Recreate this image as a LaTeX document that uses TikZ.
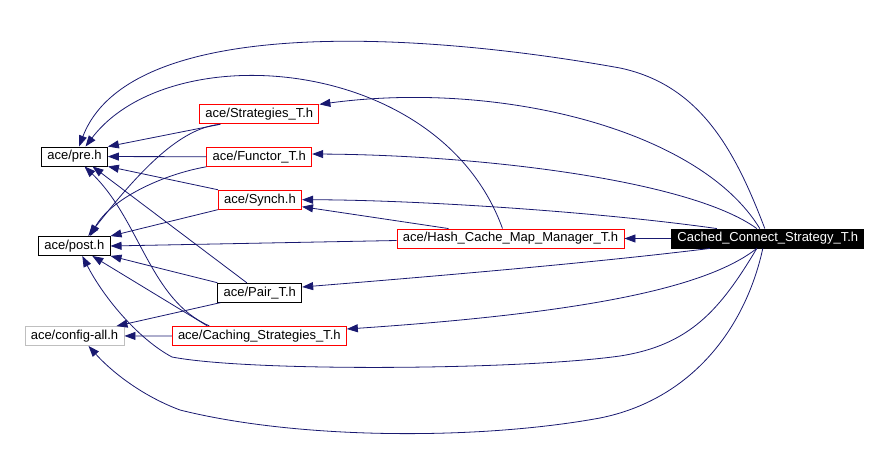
\documentclass[tikz,border=0pt]{standalone}
\usepackage{fontspec}
\setmainfont{Liberation Sans}
\usetikzlibrary{arrows.meta}
\definecolor{edgeblue}{HTML}{191970}
\definecolor{boxred}{HTML}{FF0000}
\definecolor{boxgray}{HTML}{BFBFBF}

\begin{document}
\begin{tikzpicture}[x=1pt,y=-1pt,
            hdr/.style={rectangle,draw,line width=0.9pt,minimum height=19pt,
            inner xsep=5.8pt,inner ysep=0pt,font=\fontsize{13}{15}\selectfont},
            dep/.style={draw=edgeblue,line width=0.8pt,
            -{Triangle[length=11pt,width=8pt]}}]
            \useasboundingbox (0,0) rectangle (886,453);
            \draw (74.5,156.5) node[hdr] (Pre) {ace/pre.h};
            \draw (74.3,246) node[hdr] (Post) {ace/post.h};
            \draw (74.5,336) node[hdr,draw=boxgray] (Cfg) {ace/config-all.h};
            \draw (259.3,114.3) node[hdr,draw=boxred] (S) {ace/Strategies\_T.h};
            \draw (259.3,156.8) node[hdr,draw=boxred] (F) {ace/Functor\_T.h};
            \draw (260,199.7) node[hdr,draw=boxred] (Y) {ace/Synch.h};
            \draw (259.8,292.7) node[hdr] (Pair) {ace/Pair\_T.h};
            \draw (259.3,335.8) node[hdr,draw=boxred] (Cs) {ace/Caching\_Strategies\_T.h};
            \draw (510.5,238.5) node[hdr,draw=boxred] (H) {ace/Hash\_Cache\_Map\_Manager\_T.h};
            \draw (767.8,238.5) node[hdr,fill=black,text=white] (C) {Cached\_Connect\_Strategy\_T.h};

            % Cached_Connect_Strategy_T.h
            \draw[dep] (C) -- (H);
            \draw[dep] ([xshift=-8]C.north) .. controls (700,130) and (500,80) .. (S.north east);
            \draw[dep] ([xshift=-11]C.north) .. controls (690,180) and (480,155) .. ([yshift=2.8]F.east);
            \draw[dep] ([xshift=-51]C.north) .. controls (600,212) and (420,200) .. (Y.east);
            \draw[dep] ([xshift=-3]C.north) .. controls (735,150) and (700,85) .. (620,68)
            .. controls (420,32) and (130,14) .. ([xshift=4.5]Pre.north);
            \draw[dep] ([xshift=-58]C.south) .. controls (600,262) and (450,275) .. ([yshift=5.7]Pair.east);
            \draw[dep] ([xshift=-11]C.south) .. controls (710,285) and (600,312) .. ([yshift=6.8]Cs.east);
            \draw[dep] ([xshift=-11]C.south) .. controls (720,310) and (690,345) .. (620,356)
            .. controls (520,370) and (250,372) .. (172,357)
            .. controls (140,340) and (105,300) .. ([xshift=8]Post.south);
            \draw[dep] ([xshift=-5]C.south) .. controls (745,330) and (690,400) .. (600,418)
            .. controls (480,440) and (300,440) .. (180,410)
            .. controls (140,395) and (110,370) .. ([xshift=14]Cfg.south);

            % Hash_Cache_Map_Manager_T.h
            \draw[dep] ([xshift=-62]H.north) -- ([yshift=-7]Y.east);
            \draw[dep] ([xshift=-8]H.north) .. controls (440,55) and (170,35) .. ([xshift=11]Pre.north);
            \draw[dep] ([yshift=-2]H.west) -- (Post.east);

            % middle column
            \draw[dep] ([xshift=-39]S.south) -- (Pre.north east);
            \draw[dep] ([xshift=-39]S.south) .. controls (180,128) and (140,170) .. ([xshift=14]Post.north);
            \draw[dep] (F) -- (Pre);
            \draw[dep] (F.south west) .. controls (160,175) and (110,200) .. ([xshift=16]Post.north);
            \draw[dep] (Y.north west) -- (Pre.south east);
            \draw[dep] (Y.south west) -- (Post.north east);
            \draw[dep] ([xshift=-13]Pair.north) -- ([xshift=18]Pre.south);
            \draw[dep] (Pair.north west) -- (Post.south east);
            \draw[dep] ([xshift=3]Pair.south west) -- ([xshift=-8]Cfg.north east);
            \draw[dep] (Cs) -- (Cfg);
            \draw[dep] ([xshift=-52]Cs.north) -- ([xshift=18]Post.south);
            \draw[dep] ([xshift=-50]Cs.north) .. controls (150,300) and (140,220) .. ([xshift=10]Pre.south);
\end{tikzpicture}
\end{document}
